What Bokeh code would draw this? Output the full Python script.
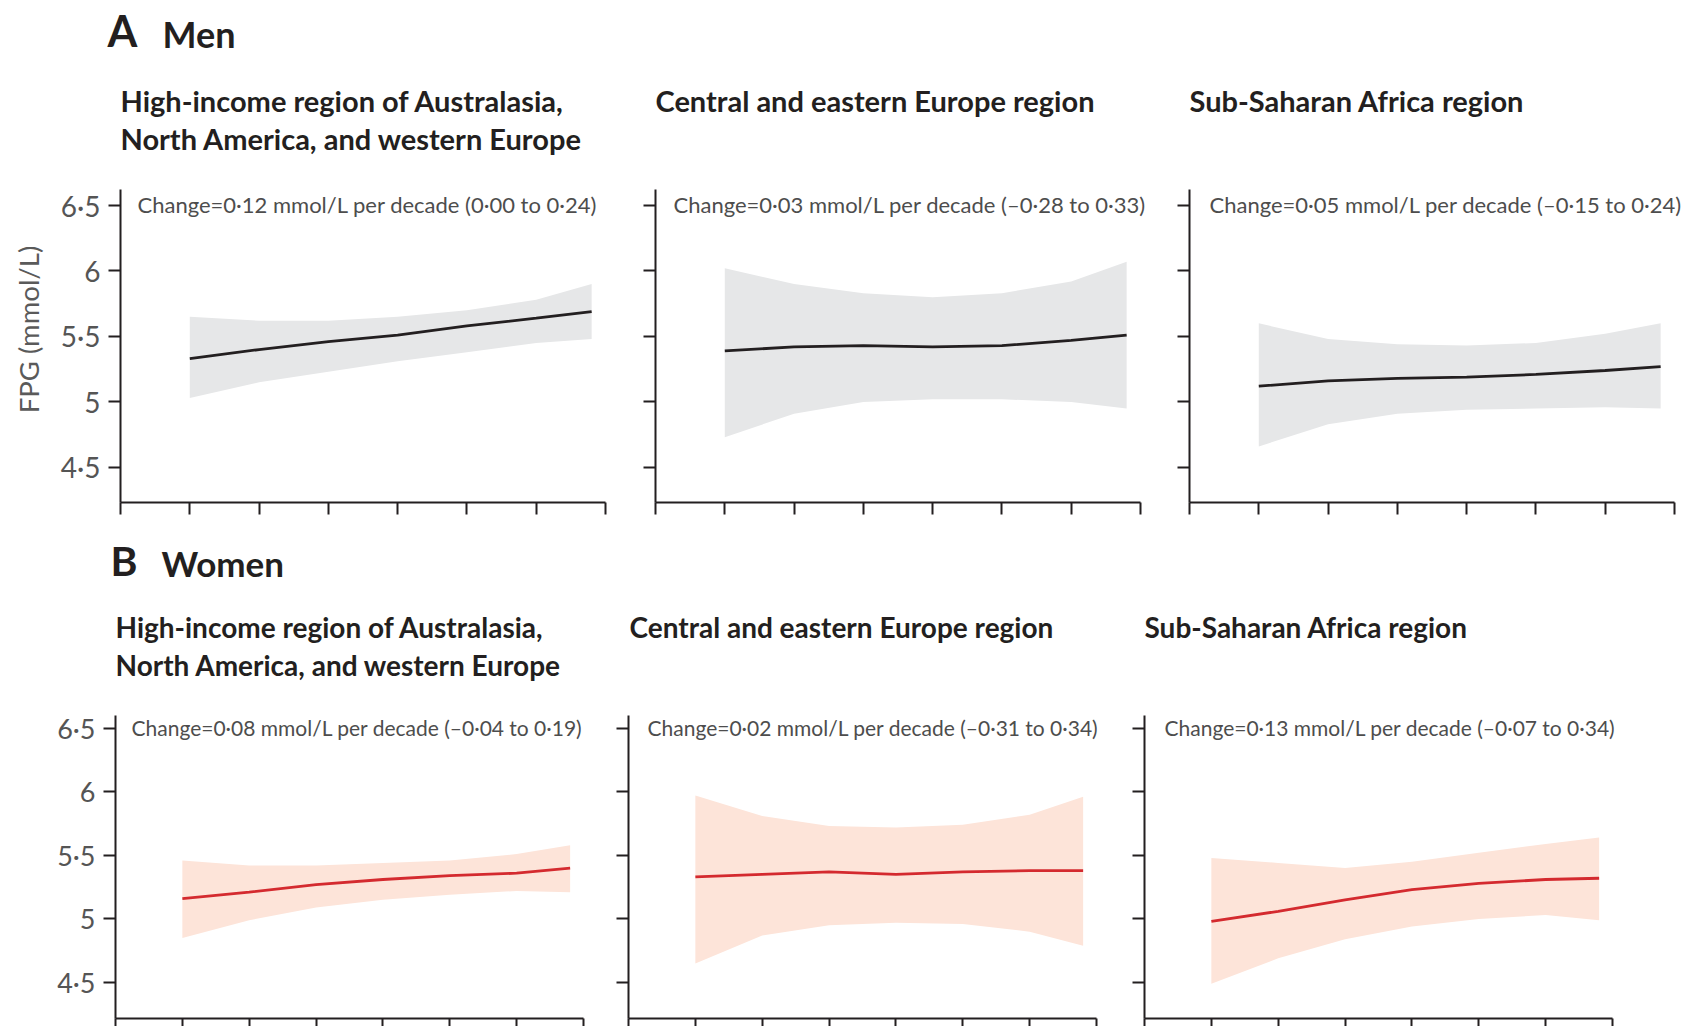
import math
from bokeh.plotting import figure
from bokeh.models import Range1d, FixedTicker, Label
from bokeh.layouts import row, column
from bokeh.embed import file_html
from bokeh.resources import INLINE

# ---------------- data ----------------
years = [1980, 1985, 1990, 1995, 2000, 2005, 2009]
x_ticks = [1975, 1980, 1985, 1990, 1995, 2000, 2005, 2010]
y_ticks = [4.5, 5, 5.5, 6, 6.5]
y_tick_labels = ["4·5", "5", "5·5", "6", "6·5"]

region_titles = [
    ["High-income region of Australasia,", "North America, and western Europe"],
    ["Central and eastern Europe region"],
    ["Sub-Saharan Africa region"],
]

men_changes = [
    "Change=0·12 mmol/L per decade (0·00 to 0·24)",
    "Change=0·03 mmol/L per decade (–0·28 to 0·33)",
    "Change=0·05 mmol/L per decade (–0·15 to 0·24)",
]
women_changes = [
    "Change=0·08 mmol/L per decade (–0·04 to 0·19)",
    "Change=0·02 mmol/L per decade (–0·31 to 0·34)",
    "Change=0·13 mmol/L per decade (–0·07 to 0·34)",
]

men_hi_mean = [5.33, 5.40, 5.46, 5.51, 5.58, 5.64, 5.69]
men_hi_low = [5.03, 5.15, 5.23, 5.31, 5.38, 5.45, 5.48]
men_hi_up = [5.65, 5.62, 5.62, 5.65, 5.70, 5.78, 5.90]

men_ce_mean = [5.39, 5.42, 5.43, 5.42, 5.43, 5.47, 5.51]
men_ce_low = [4.73, 4.91, 5.00, 5.02, 5.02, 5.00, 4.95]
men_ce_up = [6.02, 5.90, 5.83, 5.80, 5.83, 5.92, 6.07]

men_ssa_mean = [5.12, 5.16, 5.18, 5.19, 5.21, 5.24, 5.27]
men_ssa_low = [4.66, 4.83, 4.91, 4.94, 4.95, 4.96, 4.95]
men_ssa_up = [5.60, 5.48, 5.44, 5.43, 5.45, 5.52, 5.60]

women_hi_mean = [5.16, 5.21, 5.27, 5.31, 5.34, 5.36, 5.40]
women_hi_low = [4.85, 4.99, 5.09, 5.15, 5.19, 5.22, 5.21]
women_hi_up = [5.46, 5.42, 5.42, 5.44, 5.46, 5.51, 5.58]

women_ce_mean = [5.33, 5.35, 5.37, 5.35, 5.37, 5.38, 5.38]
women_ce_low = [4.65, 4.87, 4.95, 4.97, 4.96, 4.90, 4.79]
women_ce_up = [5.97, 5.81, 5.73, 5.72, 5.74, 5.82, 5.96]

women_ssa_mean = [4.98, 5.06, 5.15, 5.23, 5.28, 5.31, 5.32]
women_ssa_low = [4.49, 4.69, 4.84, 4.94, 5.00, 5.03, 4.99]
women_ssa_up = [5.48, 5.44, 5.40, 5.45, 5.52, 5.59, 5.64]

men_series = [
    (men_hi_mean, men_hi_low, men_hi_up),
    (men_ce_mean, men_ce_low, men_ce_up),
    (men_ssa_mean, men_ssa_low, men_ssa_up),
]
women_series = [
    (women_hi_mean, women_hi_low, women_hi_up),
    (women_ce_mean, women_ce_low, women_ce_up),
    (women_ssa_mean, women_ssa_low, women_ssa_up),
]

# ---------------- style / geometry ----------------
FONT = "Lato"
INK = "#231f20"
TICKLBL = "#555555"

# row geometry: canvas top/bottom, pixel of 6.5, px per unit, x-axis level, y-axis top,
# px per year, font sizes and the vertical centres of the two sub-title lines
ROW_A = dict(top=0, bottom=535, p65=205.0, pu=130.95, xax=4.232, ytop=6.622,
             pxy=485 / 35, tick_fs=28, sub_fs=29, chg_fs=22,
             mid1=100.3, mid2=137.8)
ROW_B = dict(top=535, bottom=1026, p65=727.7, pu=127.15, xax=4.217, ytop=6.600,
             pxy=468 / 35, tick_fs=27, sub_fs=28, chg_fs=21,
             mid1=626.8, mid2=664.0)
# per panel: canvas left, canvas right, y-axis pixel, title left, change-text left
COLS_A = [(0, 630, 120, 120, 137), (630, 1160, 655, 655, 673), (1160, 1683, 1189, 1189, 1209)]
COLS_B = [(0, 605, 115, 115, 131), (605, 1115, 628, 629, 647), (1115, 1683, 1144, 1144, 1164)]


def panel(rowg, colg, series, band_color, line_color, change, titles, show_labels):
    cl, cr, x0, tleft, cleft = colg
    ct, cb = rowg["top"], rowg["bottom"]
    pxy, pu, p65 = rowg["pxy"], rowg["pu"], rowg["p65"]
    xr = Range1d(x_ticks[0] - (x0 - cl) / pxy, x_ticks[0] + (cr - x0) / pxy)
    yr = Range1d(6.5 - (cb - p65) / pu, 6.5 + (p65 - ct) / pu)
    p = figure(width=cr - cl, height=cb - ct, x_range=xr, y_range=yr,
               min_border_left=0, min_border_right=0,
               min_border_top=0, min_border_bottom=0,
               output_backend="svg", toolbar_location=None)
    p.outline_line_color = None
    p.grid.visible = False
    p.background_fill_color = "white"
    p.border_fill_color = "white"

    mean, low, up = series
    p.varea(x=years, y1=low, y2=up, fill_color=band_color, fill_alpha=1.0)
    p.line(x=years, y=mean, line_color=line_color, line_width=2.8)

    xa = p.xaxis[0]
    xa.fixed_location = rowg["xax"]
    xa.bounds = (x_ticks[0], x_ticks[-1])
    xa.ticker = FixedTicker(ticks=x_ticks)
    xa.major_label_overrides = {t: "" for t in x_ticks}
    ya = p.yaxis[0]
    ya.fixed_location = x_ticks[0]
    ya.ticker = FixedTicker(ticks=y_ticks)
    ya.bounds = (rowg["xax"], rowg["ytop"])
    if show_labels:
        ya.major_label_overrides = dict(zip(y_ticks, y_tick_labels))
    else:
        ya.major_label_overrides = {t: "" for t in y_ticks}
    ya.major_label_text_font = FONT
    ya.major_label_text_font_size = f"{rowg['tick_fs']}px"
    ya.major_label_text_color = TICKLBL
    ya.major_label_standoff = 8
    for ax in (xa, ya):
        ax.axis_line_color = INK
        ax.axis_line_width = 2
        ax.major_tick_line_color = INK
        ax.major_tick_line_width = 2
        ax.major_tick_out = 12
        ax.major_tick_in = 0
        ax.minor_tick_line_color = None

    # "Change=..." annotation at the 6·5 level
    p.add_layout(Label(x=cleft - cl, y=y_ticks[-1], x_units="screen", y_units="data",
                       text=change, text_font=FONT,
                       text_font_size=f"{rowg['chg_fs']}px", text_color="#4d4d4d",
                       text_baseline="middle", text_align="left", y_offset=1))
    mids = [rowg["mid1"], rowg["mid2"]]
    for i, t in enumerate(titles):
        p.add_layout(Label(x=tleft - cl, y=cb - mids[i],
                           x_units="screen", y_units="screen", text=t,
                           text_font=FONT, text_font_style="bold",
                           text_font_size=f"{rowg['sub_fs']}px", text_color=INK,
                           text_baseline="middle", text_align="left"))
    return p


figs_a = [panel(ROW_A, COLS_A[k], men_series[k], "#e6e7e8", INK,
                men_changes[k], region_titles[k], k == 0) for k in range(3)]
figs_b = [panel(ROW_B, COLS_B[k], women_series[k], "#fde4d9", "#d42a2f",
                women_changes[k], region_titles[k], k == 0) for k in range(3)]


def heading(p, rowg, letter, word, letter_x, word_x, base, fs1, fs2):
    # both parts share one baseline; 'middle' sits ~0.41 em above it
    for txt, xx, fs in ((letter, letter_x, fs1), (word, word_x, fs2)):
        p.add_layout(Label(x=xx, y=rowg["bottom"] - (base - 0.41 * fs),
                           x_units="screen", y_units="screen",
                           text=txt, text_font=FONT, text_font_style="bold",
                           text_font_size=f"{fs}px", text_color=INK,
                           text_baseline="middle"))


heading(figs_a[0], ROW_A, "A", "Men", 107, 162, 47.8, 43, 36)
heading(figs_b[0], ROW_B, "B", "Women", 110, 161, 577.0, 41, 35)

figs_a[0].add_layout(Label(x=28, y=ROW_A["bottom"] - 329, x_units="screen", y_units="screen",
                           text="FPG (mmol/L)", angle=math.pi / 2, text_font=FONT,
                           text_font_size="27.5px", text_color="#5a5a5a",
                           text_align="center", text_baseline="middle"))

layout = column(row(*figs_a, spacing=0), row(*figs_b, spacing=0), spacing=0)

open("out.html", "w").write(file_html(layout, INLINE))
